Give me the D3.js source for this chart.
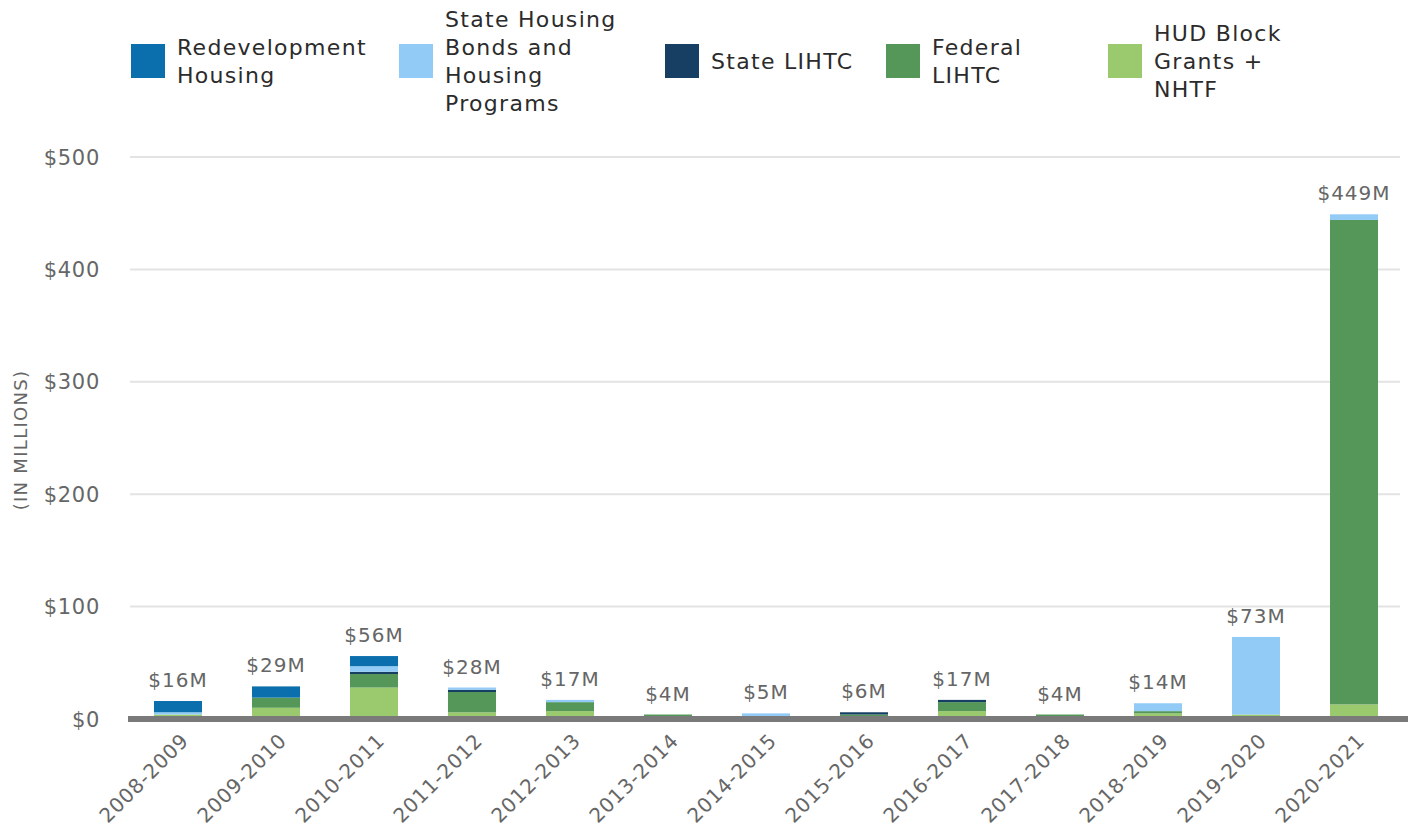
<!DOCTYPE html>
<html>
<head>
<meta charset="utf-8">
<script src="https://cdn.jsdelivr.net/npm/d3@7"></script>
<style>
  body { margin: 0; background: #fff; }
  svg { font-family: "DejaVu Sans", sans-serif; }
</style>
</head>
<body>
<svg id="chart" width="1408" height="833"></svg>
<script>
const years = ["2008-2009", "2009-2010", "2010-2011", "2011-2012", "2012-2013", "2013-2014",
  "2014-2015", "2015-2016", "2016-2017", "2017-2018", "2018-2019", "2019-2020", "2020-2021"];

// values in $ millions
const hudBlock   = [4, 10, 28, 6, 7, 2, 1, 1, 7, 2, 5, 4, 13];
const fedLihtc   = [0, 9, 12, 18, 8, 2, 0, 3, 8, 2, 2, 0, 431];
const stateLihtc = [0, 0, 2, 2, 0, 0, 0, 2, 2, 0, 0, 0, 0];
const stateBonds = [2, 0, 5, 2, 2, 0, 4, 0, 0, 0, 7, 69, 5];
const redevelop  = [10, 10, 9, 0, 0, 0, 0, 0, 0, 0, 0, 0, 0];

const totalLabels = ["$16M", "$29M", "$56M", "$28M", "$17M", "$4M", "$5M", "$6M", "$17M", "$4M", "$14M", "$73M", "$449M"];
const yTicks = [0, 100, 200, 300, 400, 500];

// stacked bottom -> top
const series = [
  { key: "hud", name: ["HUD Block", "Grants +", "NHTF"], values: hudBlock, color: "#9bc96d" },
  { key: "fed", name: ["Federal", "LIHTC"], values: fedLihtc, color: "#559758" },
  { key: "slihtc", name: ["State LIHTC"], values: stateLihtc, color: "#173f63" },
  { key: "bonds", name: ["State Housing", "Bonds and", "Housing", "Programs"], values: stateBonds, color: "#91cbf6" },
  { key: "redev", name: ["Redevelopment", "Housing"], values: redevelop, color: "#0b6fae" }
];

const svg = d3.select("#chart");

const rows = years.map((y, i) => {
  const r = { year: y };
  series.forEach(s => r[s.key] = s.values[i]);
  return r;
});
const stacked = d3.stack().keys(series.map(s => s.key))(rows);

const x = d3.scaleBand().domain(years).range([129, 1403]).padding(0);
const barW = x.bandwidth() * 0.49;
const y = d3.scaleLinear().domain([0, 500]).range([719, 157]);

// gridlines
svg.append("g")
  .selectAll("line")
  .data(yTicks.filter(d => d > 0))
  .enter().append("line")
  .attr("x1", 130).attr("x2", 1400)
  .attr("y1", d => y(d)).attr("y2", d => y(d))
  .attr("stroke", "#e3e3e3").attr("stroke-width", 2);

// y tick labels
svg.append("g")
  .selectAll("text")
  .data(yTicks)
  .enter().append("text")
  .attr("x", 100)
  .attr("y", d => y(d))
  .attr("dy", "0.36em")
  .attr("text-anchor", "end")
  .attr("fill", "#666")
  .attr("font-size", "21px")
  .attr("letter-spacing", "0.7px")
  .text(d => "$" + d);

// y axis title
svg.append("text")
  .attr("transform", "rotate(-90)")
  .attr("x", -440)
  .attr("y", 27)
  .attr("text-anchor", "middle")
  .attr("fill", "#666")
  .attr("font-size", "18px")
  .attr("letter-spacing", "1.3px")
  .text("(IN MILLIONS)");

// bars
const layers = svg.append("g")
  .selectAll("g")
  .data(stacked)
  .enter().append("g")
  .attr("fill", (d, i) => series[i].color);

layers.selectAll("rect")
  .data(d => d)
  .enter().append("rect")
  .attr("x", d => x(d.data.year) + (x.bandwidth() - barW) / 2)
  .attr("y", d => y(d[1]))
  .attr("width", barW)
  .attr("height", d => y(d[0]) - y(d[1]));

// baseline
svg.append("line")
  .attr("x1", 128).attr("x2", 1408)
  .attr("y1", y(0)).attr("y2", y(0))
  .attr("stroke", "#7a7a7a").attr("stroke-width", 6);

// total labels
const totals = years.map((yr, i) => d3.sum(series, s => s.values[i]));
svg.append("g")
  .selectAll("text")
  .data(years)
  .enter().append("text")
  .attr("x", d => x(d) + x.bandwidth() / 2)
  .attr("y", (d, i) => y(totals[i]) - 14)
  .attr("text-anchor", "middle")
  .attr("fill", "#666")
  .attr("font-size", "20px")
  .attr("letter-spacing", "1px")
  .text((d, i) => totalLabels[i]);

// x labels
svg.append("g")
  .selectAll("text")
  .data(years)
  .enter().append("text")
  .attr("transform", d => `translate(${x(d) + x.bandwidth() / 2 + 2},${732}) rotate(-45)`)
  .attr("text-anchor", "end")
  .attr("dy", "0.7em")
  .attr("fill", "#666")
  .attr("font-size", "20px")
  .attr("letter-spacing", "0.8px")
  .text(d => d);

// legend
const legendOrder = ["redev", "bonds", "slihtc", "fed", "hud"];
const legendX = [131, 399, 665, 886, 1108];
const legend = svg.append("g");
legendOrder.forEach((k, i) => {
  const s = series.find(d => d.key === k);
  const g = legend.append("g").attr("transform", `translate(${legendX[i]},0)`);
  g.append("rect").attr("x", 0).attr("y", 44).attr("width", 34).attr("height", 34).attr("fill", s.color);
  const n = s.name.length;
  g.append("text")
    .attr("fill", "#2b2b2b")
    .attr("font-size", "22px")
    .attr("letter-spacing", "1.3px")
    .selectAll("tspan")
    .data(s.name)
    .enter().append("tspan")
    .attr("x", 46)
    .attr("y", (d, j) => 61 + (j - (n - 1) / 2) * 28)
    .attr("dy", "0.36em")
    .text(d => d);
});
</script>
</body>
</html>
